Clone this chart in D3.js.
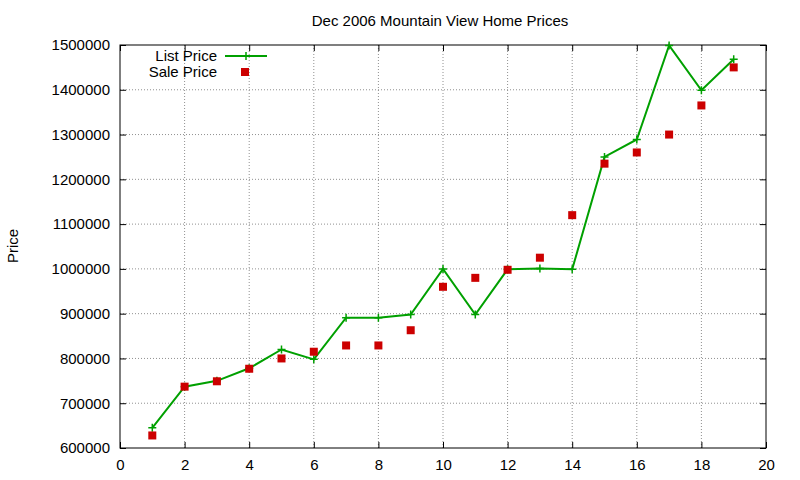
<!DOCTYPE html>
<html><head><meta charset="utf-8">
<script src="https://cdn.jsdelivr.net/npm/d3@7"></script>
<style>body{margin:0;background:#fff}text{font-family:"Liberation Sans",Arial,sans-serif;font-size:15px}</style>
</head><body><svg id="c" width="800" height="480"></svg>
<script>
var months = [1,2,3,4,5,6,7,8,9,10,11,12,13,14,15,16,17,18,19];
var listPrice = [645000,737000,750000,778000,820000,798000,891000,891000,898000,1000000,898000,999000,1001000,999000,1250000,1289000,1499000,1399000,1468000];
var salePrice = [628000,737000,749000,777000,800000,815000,829000,829000,863000,960000,980000,998000,1025000,1120000,1235000,1260000,1300000,1365000,1450000];
var xTicks = d3.range(0, 21, 2);
var yTicks = d3.range(600000, 1500001, 100000);

var svg = d3.select("#c");
var L = 120, R = 766, T = 45, B = 448;
var x = d3.scaleLinear().domain([0, 20]).range([L, R]);
var y = d3.scaleLinear().domain([600000, 1500000]).range([B, T]);

// grid
svg.selectAll(".gx").data(xTicks.slice(1, -1)).enter().append("line")
    .attr("x1", x).attr("x2", x).attr("y1", T).attr("y2", B)
    .attr("stroke", "#909090").attr("stroke-dasharray", "1,2");
svg.selectAll(".gy").data(yTicks.slice(1, -1)).enter().append("line")
    .attr("y1", y).attr("y2", y).attr("x1", L).attr("x2", R)
    .attr("stroke", "#909090").attr("stroke-dasharray", "1,2");

// axes, ticks inward and mirrored
var ax = function(g){ g.select(".domain").remove(); g.selectAll("text").style("font-size","15px").attr("fill","#000"); };
svg.append("g").attr("transform", "translate(0," + B + ")")
    .call(d3.axisBottom(x).tickValues(xTicks).tickSize(-6).tickPadding(11)).call(ax);
svg.append("g").attr("transform", "translate(0," + T + ")")
    .call(d3.axisTop(x).tickValues(xTicks).tickSize(-6).tickFormat("")).call(ax);
svg.append("g").attr("transform", "translate(" + L + ",0)")
    .call(d3.axisLeft(y).tickValues(yTicks).tickSize(-6).tickPadding(10).tickFormat(d3.format("d"))).call(ax);
svg.append("g").attr("transform", "translate(" + R + ",0)")
    .call(d3.axisRight(y).tickValues(yTicks).tickSize(-6).tickFormat("")).call(ax);
svg.append("rect").attr("x", L).attr("y", T).attr("width", R - L).attr("height", B - T)
    .attr("fill", "none").attr("stroke", "#000");

svg.append("text").attr("x", 440).attr("y", 26).attr("text-anchor", "middle").text("Dec 2006 Mountain View Home Prices");
svg.append("text").attr("transform", "translate(18,246) rotate(-90)").attr("text-anchor", "middle").text("Price");

var green = "#00a000", red = "#cc0000";
function plus(g, cx, cy){
    g.append("path").attr("d", "M" + (cx-4) + "," + cy + "h8M" + cx + "," + (cy-4) + "v8")
        .attr("stroke", green).attr("stroke-width", 1.5);
}

svg.append("path").datum(months)
    .attr("d", d3.line().x(function(d){ return x(d); }).y(function(d, i){ return y(listPrice[i]); }))
    .attr("fill", "none").attr("stroke", green).attr("stroke-width", 2);
months.forEach(function(m, i){ plus(svg, x(m), y(listPrice[i])); });

svg.selectAll(".s").data(months).enter().append("rect")
    .attr("x", function(d){ return x(d) - 4; })
    .attr("y", function(d, i){ return y(salePrice[i]) - 4; })
    .attr("width", 8).attr("height", 8).attr("fill", red);

// legend
svg.append("text").attr("x", 217).attr("y", 61).attr("text-anchor", "end").text("List Price");
svg.append("line").attr("x1", 225).attr("x2", 267).attr("y1", 56).attr("y2", 56).attr("stroke", green).attr("stroke-width", 2);
plus(svg, 246, 56);
svg.append("text").attr("x", 217).attr("y", 77).attr("text-anchor", "end").text("Sale Price");
svg.append("rect").attr("x", 241).attr("y", 68).attr("width", 8).attr("height", 8).attr("fill", red);
</script></body></html>
